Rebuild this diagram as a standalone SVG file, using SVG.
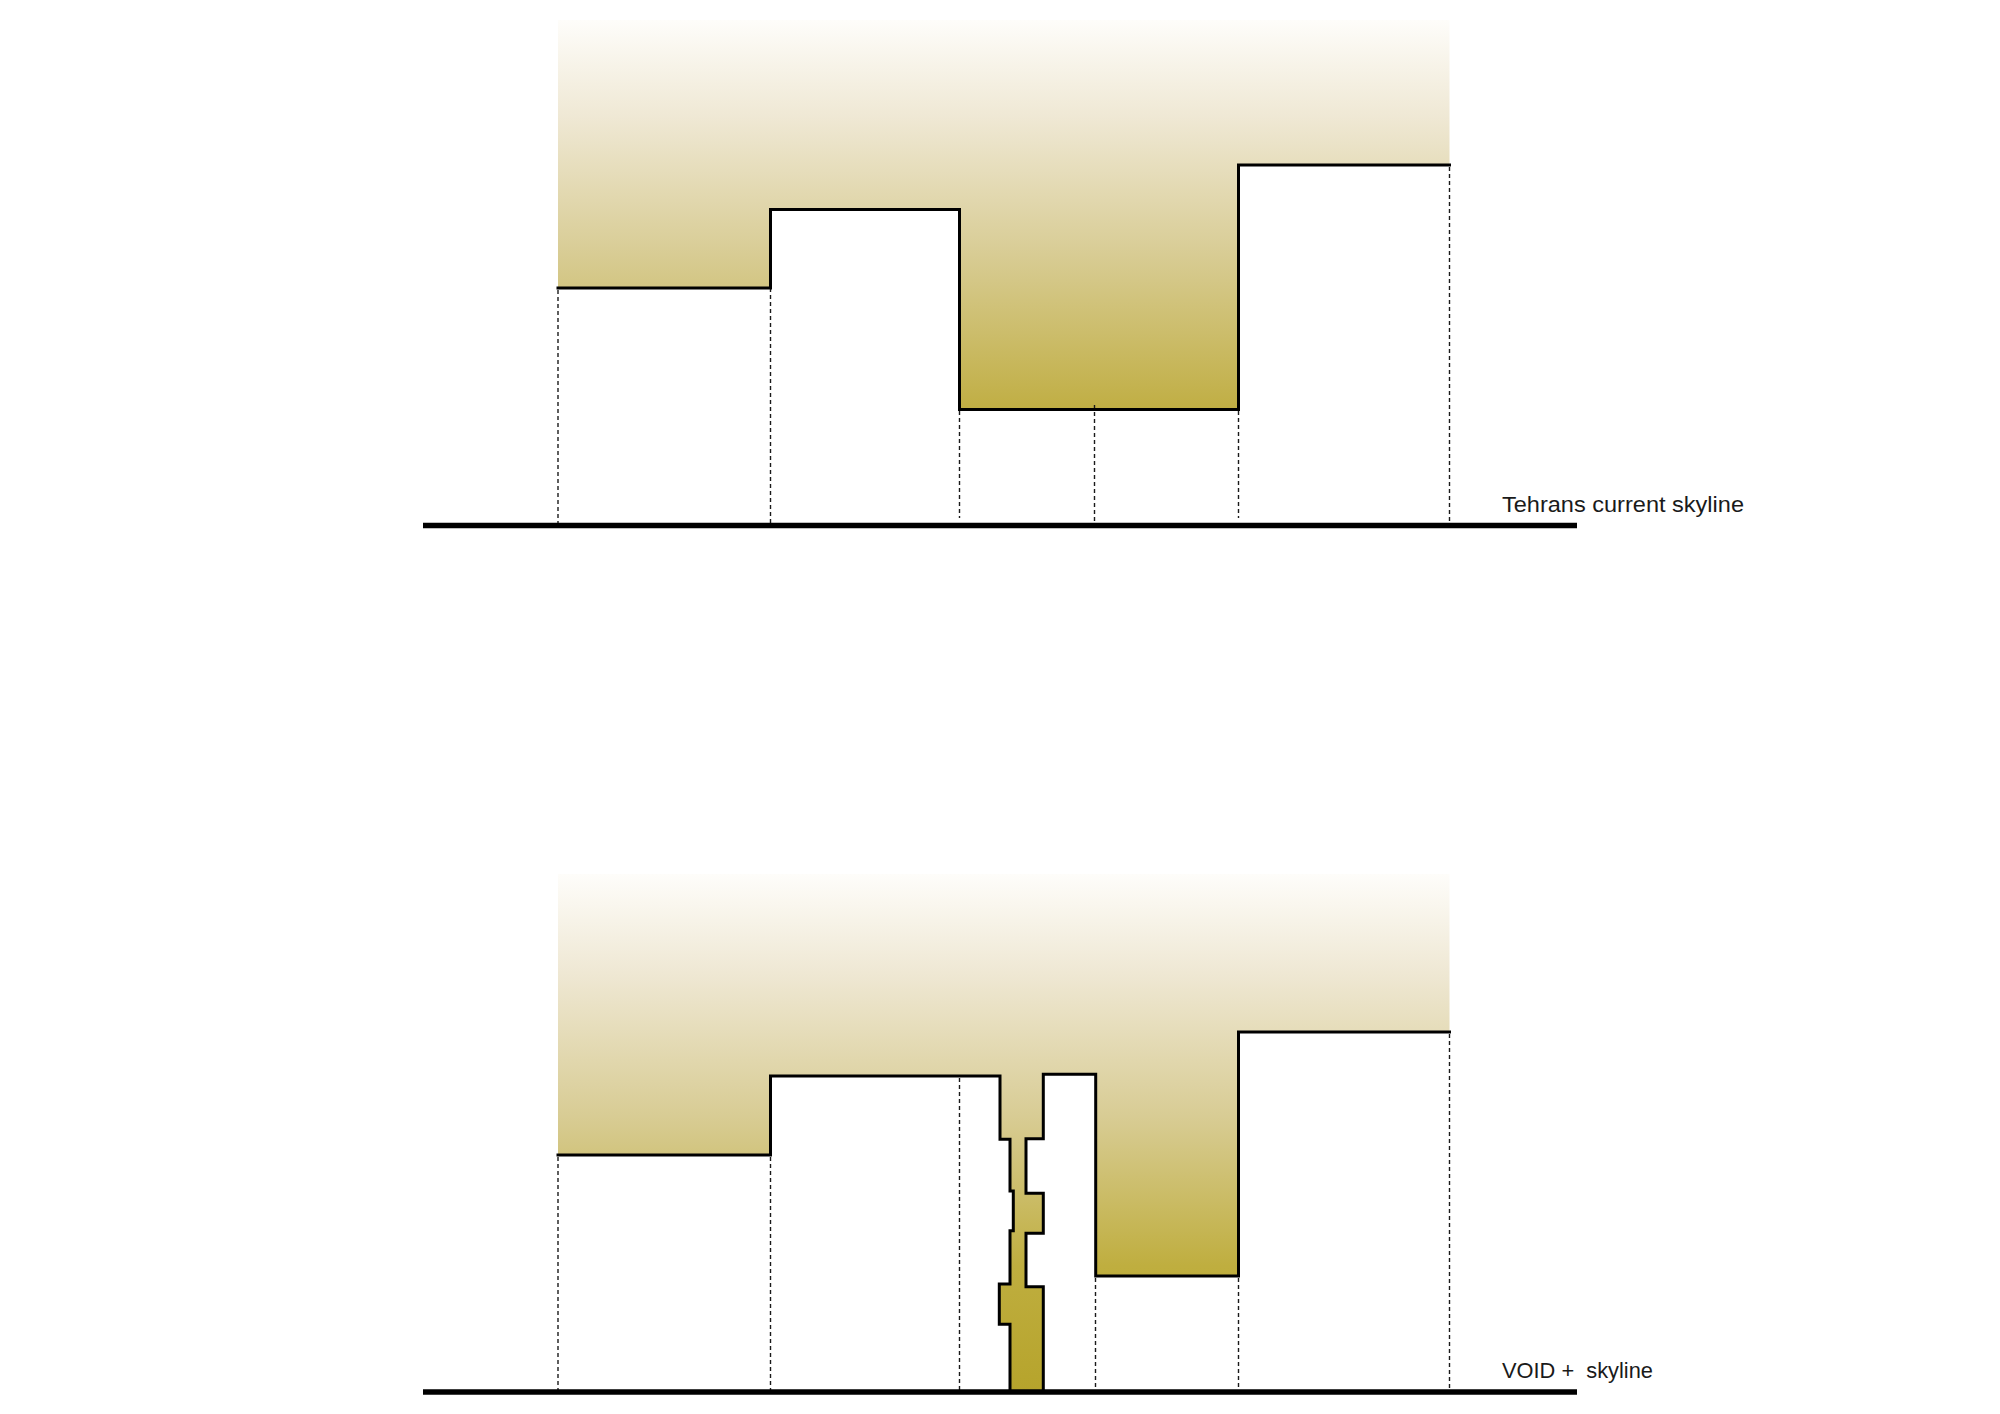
<svg xmlns="http://www.w3.org/2000/svg" width="2000" height="1414" viewBox="0 0 2000 1414">
  <defs>
    <linearGradient id="skyTop" gradientUnits="userSpaceOnUse" x1="0" y1="20" x2="0" y2="410">
      <stop offset="0" stop-color="#fefdfa"/>
      <stop offset="0.25" stop-color="#efe8d4"/>
      <stop offset="0.6" stop-color="#d8cc94"/>
      <stop offset="1" stop-color="#c0ae43"/>
    </linearGradient>
    <linearGradient id="skyBottom" gradientUnits="userSpaceOnUse" x1="0" y1="874" x2="0" y2="1390">
      <stop offset="0" stop-color="#fefdfa"/>
      <stop offset="0.19" stop-color="#efe8d4"/>
      <stop offset="0.47" stop-color="#d8cc94"/>
      <stop offset="0.76" stop-color="#bfae3f"/>
      <stop offset="1" stop-color="#b6a42c"/>
    </linearGradient>
    <style>
      .outline { fill: none; stroke: #000; stroke-width: 3; stroke-linejoin: miter; stroke-linecap: square; }
      .dash { fill: none; stroke: #1a1a1a; stroke-width: 1.4; stroke-dasharray: 4 3; }
      .ground { fill: none; stroke: #000; stroke-width: 5.5; }
      .label { font-family: "Liberation Sans", Arial, sans-serif; font-size: 22.5px; fill: #1a1a1a; white-space: pre; }
    </style>
  </defs>
  <rect width="2000" height="1414" fill="#ffffff"/>

  <!-- Top panel: current skyline -->
  <g id="panel-current">
    <path id="sky-current" fill="url(#skyTop)" d="M558,20 H1449.5 V165 H1238.5 V409.5 H959.5 V209.5 H770.5 V288 H558 Z"/>
    <g id="guides-current">
      <line class="dash" x1="558" y1="290" x2="558" y2="524"/>
      <line class="dash" x1="770.5" y1="211" x2="770.5" y2="524"/>
      <line class="dash" x1="959.5" y1="411" x2="959.5" y2="518"/>
      <line class="dash" x1="1094.5" y1="405" x2="1094.5" y2="531"/>
      <line class="dash" x1="1238.5" y1="411" x2="1238.5" y2="518"/>
      <line class="dash" x1="1449.5" y1="167" x2="1449.5" y2="524"/>
    </g>
    <polyline id="skyline-current" class="outline" points="558,288 770.5,288 770.5,209.5 959.5,209.5 959.5,409.5 1238.5,409.5 1238.5,165 1449.5,165"/>
    <line id="ground-current" class="ground" x1="423" y1="525.5" x2="1577" y2="525.5"/>
    <text id="label-current" class="label" x="1502" y="512" textLength="242" lengthAdjust="spacingAndGlyphs">Tehrans current skyline</text>
  </g>

  <!-- Bottom panel: VOID + skyline -->
  <g id="panel-void">
    <path id="sky-void" fill="url(#skyBottom)" d="M558,874 H1449.5 V1032 H1238.5 V1276 H1095.7 V1074.3 H1043.3 V1138.7 H1026 V1193.3 H1043.3 V1233.3 H1026 V1286.7 H1043.3 V1390 H1010 V1324.3 H999.3 V1284 H1010 V1230.7 H1013.3 V1191 H1010 V1139.3 H1000 V1076 H770.5 V1155 H558 Z"/>
    <g id="guides-void">
      <line class="dash" x1="558" y1="1157" x2="558" y2="1390"/>
      <line class="dash" x1="770.5" y1="1157" x2="770.5" y2="1390"/>
      <line class="dash" x1="959.5" y1="1078" x2="959.5" y2="1390"/>
      <line class="dash" x1="1095.5" y1="1278" x2="1095.5" y2="1390"/>
      <line class="dash" x1="1238.5" y1="1278" x2="1238.5" y2="1390"/>
      <line class="dash" x1="1449.5" y1="1034" x2="1449.5" y2="1390"/>
    </g>
    <polyline id="skyline-void-left" class="outline" points="558,1155 770.5,1155 770.5,1076 1000,1076 1000,1139.3 1010,1139.3 1010,1191 1013.3,1191 1013.3,1230.7 1010,1230.7 1010,1284 999.3,1284 999.3,1324.3 1010,1324.3 1010,1390"/>
    <polyline id="skyline-void-right" class="outline" points="1043.3,1390 1043.3,1286.7 1026,1286.7 1026,1233.3 1043.3,1233.3 1043.3,1193.3 1026,1193.3 1026,1138.7 1043.3,1138.7 1043.3,1074.3 1095.7,1074.3 1095.7,1276 1238.5,1276 1238.5,1032 1449.5,1032"/>
    <line id="ground-void" class="ground" x1="423" y1="1392" x2="1577" y2="1392"/>
    <text id="label-void" class="label" x="1502" y="1378" textLength="151" lengthAdjust="spacingAndGlyphs">VOID +  skyline</text>
  </g>
</svg>
